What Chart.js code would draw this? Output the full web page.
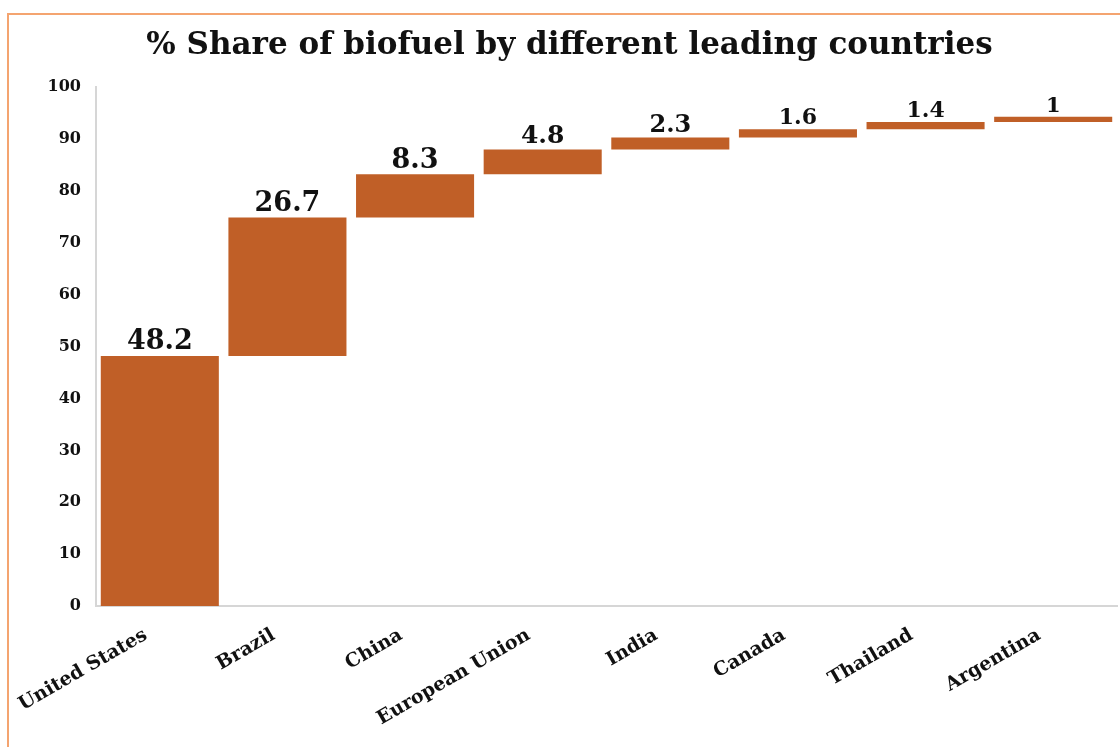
<!DOCTYPE html>
<html>
<head>
<meta charset="utf-8">
<script src="https://cdn.jsdelivr.net/npm/chart.js@4"></script>
<style>
  html, body { margin: 0; padding: 0; background: #fff; }
  #wrap { position: relative; width: 1120px; height: 747px; overflow: hidden; }
  #frame { position: absolute; left: 7px; top: 13px; width: 1130px; height: 760px;
           border-left: 2px solid #f4a470; border-top: 2px solid #f4a470; }
  canvas { position: absolute; left: 0; top: 0; }
</style>
</head>
<body>
<div id="wrap">
  <div id="frame"></div>
  <canvas id="chart" width="1120" height="747"></canvas>
</div>
<script>
// countries and their share of biofuel (%)
const countries = ["United States", "Brazil", "China", "European Union", "India", "Canada", "Thailand", "Argentina"];
const shares = [48.2, 26.7, 8.3, 4.8, 2.3, 1.6, 1.4, 1];
const yTicks = [0, 10, 20, 30, 40, 50, 60, 70, 80, 90, 100];

// waterfall: each bar starts where the previous one ended
let running = 0;
const ranges = shares.map(v => {
  const r = [running, running + v];
  running += v;
  return r;
});

const serif = "'DejaVu Serif', 'Liberation Serif', serif";
const labelSizes = [27, 27, 27, 25, 24, 22, 22, 21];

const valueLabels = {
  id: 'valueLabels',
  afterDatasetsDraw(chart) {
    const ctx = chart.ctx;
    const meta = chart.getDatasetMeta(0);
    ctx.save();
    ctx.fillStyle = '#111';
    ctx.textAlign = 'center';
    ctx.textBaseline = 'bottom';
    meta.data.forEach((bar, i) => {
      ctx.font = 'bold ' + labelSizes[i] + 'px ' + serif;
      ctx.fillText(String(shares[i]), bar.x, bar.y);
    });
    ctx.restore();
  }
};

const ctx = document.getElementById('chart').getContext('2d');
const chart = new Chart(ctx, {
  type: 'bar',
  data: {
    labels: countries,
    datasets: [{
      data: ranges,
      backgroundColor: '#c05f27',
      borderWidth: 0,
      barPercentage: 0.925,
      categoryPercentage: 1
    }]
  },
  options: {
    responsive: false,
    animation: false,
    layout: { padding: { left: 22, right: 3, top: 0, bottom: 0 } },
    plugins: {
      legend: { display: false },
      tooltip: { enabled: false },
      title: {
        display: true,
        text: '% Share of biofuel by different leading countries',
        color: '#111',
        font: { family: serif, size: 31, weight: 'bold' },
        padding: { top: 27, bottom: 23 }
      }
    },
    scales: {
      x: {
        grid: { display: false, drawTicks: false },
        border: { color: '#d6d6d6', width: 2 },
        ticks: {
          color: '#111',
          font: { family: serif, size: 19, weight: 'bold' },
          minRotation: 30,
          maxRotation: 30,
          padding: 18,
          labelOffset: -14
        },
        afterFit(scale) { scale.height = 141; }
      },
      y: {
        min: 0,
        max: 100,
        afterBuildTicks(scale) { scale.ticks = yTicks.map(v => ({ value: v })); },
        grid: { display: false, drawTicks: false },
        border: { color: '#d6d6d6', width: 2 },
        ticks: {
          color: '#111',
          font: { family: serif, size: 16, weight: 'bold' },
          padding: 15
        },
        afterFit(scale) { scale.width = 74; }
      }
    }
  },
  plugins: [valueLabels]
});
</script>
</body>
</html>
